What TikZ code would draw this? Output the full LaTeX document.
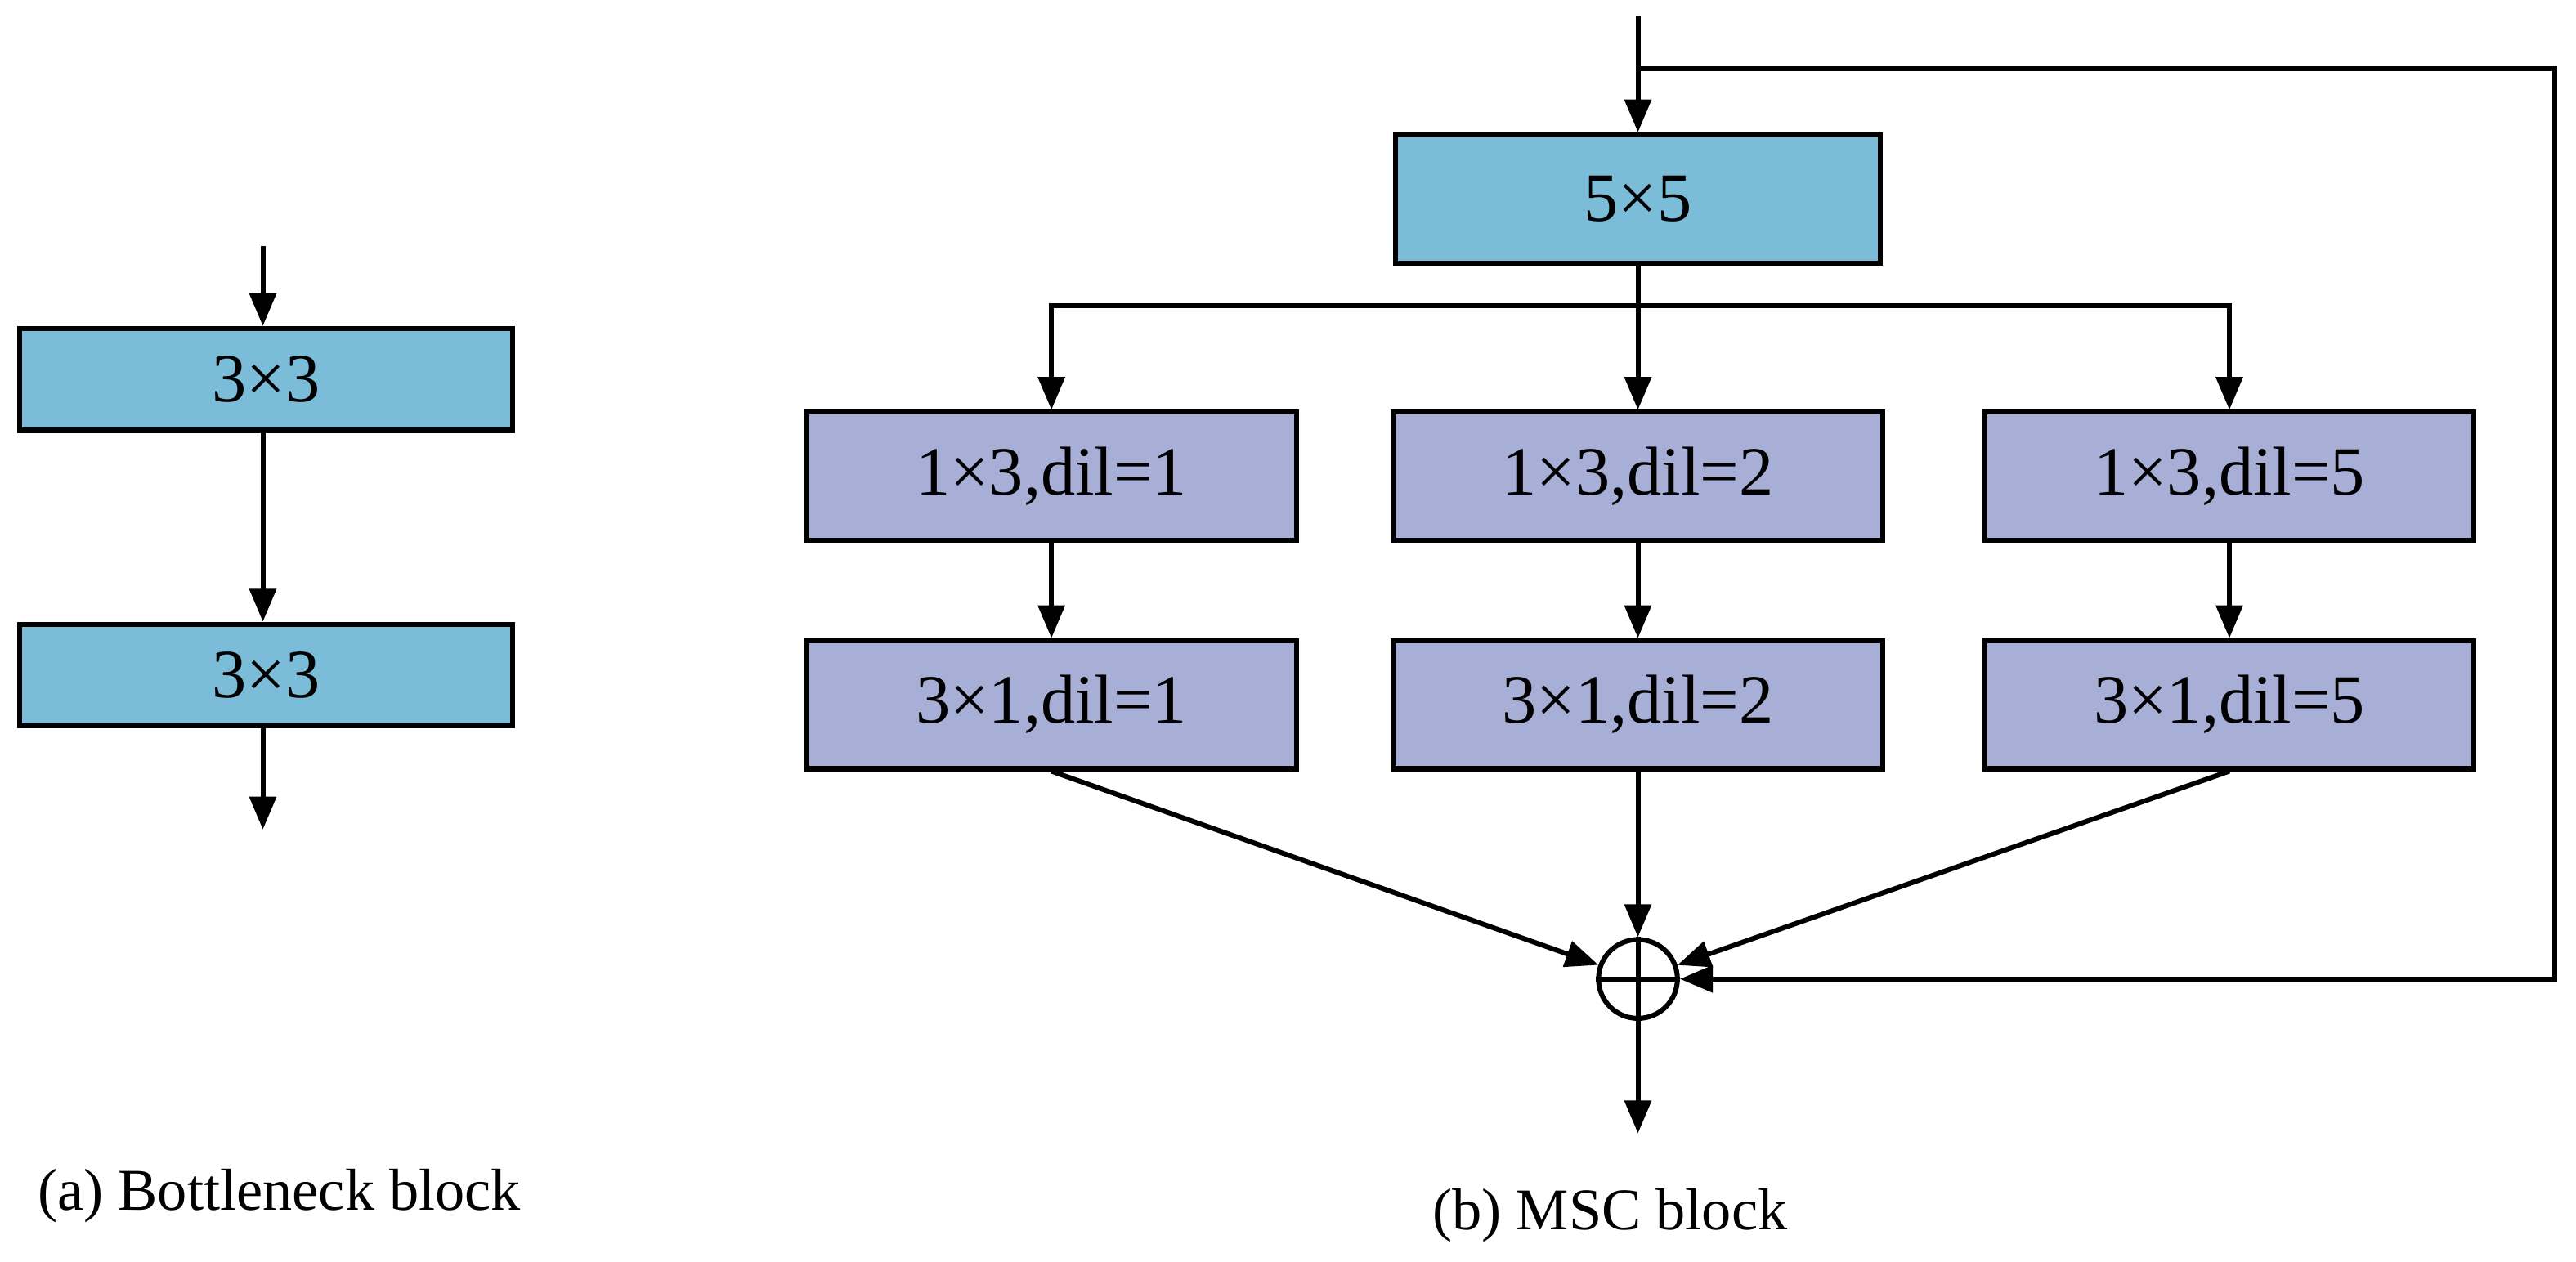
\documentclass[tikz,border=0pt]{standalone}
\usepackage{fontspec}
\setmainfont{Liberation Serif}
\usetikzlibrary{arrows.meta}
\begin{document}
\begin{tikzpicture}[x=1pt,y=-1pt,
  line width=3pt,
  arr/.style={-{Triangle[length=20pt,width=16pt]}},
  blue/.style={draw,fill=cyanbox,minimum width=300pt,minimum height=62pt,inner sep=0pt,font=\fontsize{42}{48}\selectfont},
  lav/.style={draw,fill=lavbox,minimum width=298pt,minimum height=78pt,inner sep=0pt,font=\fontsize{42}{48}\selectfont},
  lbl/.style={font=\fontsize{36}{42}\selectfont}]
\definecolor{cyanbox}{HTML}{7BBCD9}
\definecolor{lavbox}{HTML}{A7AFD6}
\useasboundingbox (0,0) rectangle (1568,768);
% left
\coordinate (ain) at (160,150);
\node[blue] (a1) at (162,231) {3×3};
\node[blue] (a2) at (162,411) {3×3};
\coordinate (aout) at (160,505);
\draw[arr] (ain) -- (ain|-a1.north);
\draw[arr] (a1.south-|ain) -- (a2.north-|ain);
\draw[arr] (a2.south-|ain) -- (aout);
\node[lbl] (la) at (170,728) {(a) Bottleneck block};
% right
\coordinate (bin) at (997,10);
\node[blue,minimum width=295pt,minimum height=78pt] (b0) at (997,121) {5×5};
\coordinate (sk1) at (997,42);
\coordinate (sk2) at (1555,42);
\coordinate (sk3) at (1555,596);
\draw[arr] (bin) -- (b0.north);
\coordinate (br) at (997,186);
\node[lav] (r11) at (640,290) {1×3,dil=1};
\node[lav] (r12) at (997,290) {1×3,dil=2};
\node[lav] (r13) at (1357,290) {1×3,dil=5};
\node[lav] (r21) at (640,429) {3×1,dil=1};
\node[lav] (r22) at (997,429) {3×1,dil=2};
\node[lav] (r23) at (1357,429) {3×1,dil=5};
\draw (b0.south) -- (br);
\draw[arr] (br) -| (r11.north);
\draw[arr] (br) -- (r12.north);
\draw[arr] (br) -| (r13.north);
\foreach \i in {1,2,3}{\draw[arr] (r1\i) -- (r2\i);}
\node[draw,circle,minimum size=48pt,inner sep=0pt] (sum) at (997,596) {};
\draw (sum.north) -- (sum.south) (sum.west) -- (sum.east);
\draw[arr] (r21.south) -- (sum);
\draw[arr] (r22.south) -- (sum);
\draw[arr] (r23.south) -- (sum);
\draw[arr] (sk1) -- (sk2) -- (sk3) -- (sum.east);
\coordinate (bout) at (997,690);
\draw[arr] (sum.south) -- (bout);
\node[lbl] (lb) at (980,740) {(b) MSC block};
\end{tikzpicture}
\end{document}
